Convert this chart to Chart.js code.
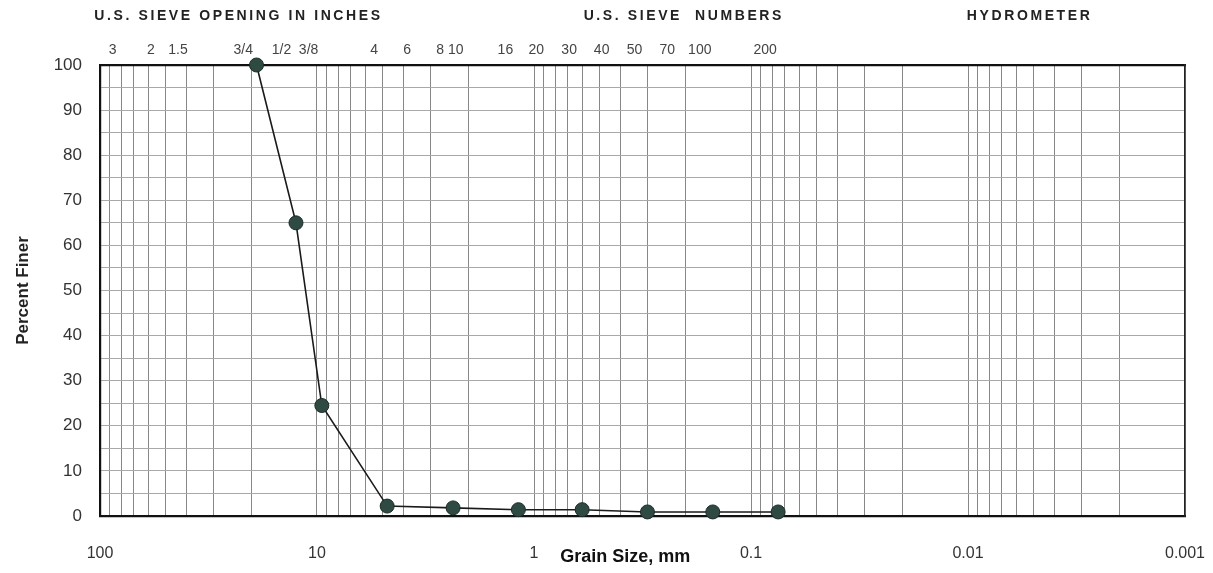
<!DOCTYPE html>
<html>
<head>
<meta charset="utf-8">
<script src="https://cdn.jsdelivr.net/npm/chart.js@4/dist/chart.umd.min.js"></script>
<style>
  html, body { margin: 0; padding: 0; background: #ffffff; }
  #wrap { width: 1213px; height: 573px; position: relative; }
</style>
</head>
<body>
<div id="wrap"><canvas id="c"></canvas></div>
<script>
// ---- data ----
const grainSizes = [19, 12.5, 9.5, 4.75, 2.36, 1.18, 0.6, 0.3, 0.15, 0.075];
const percentFiner = [100, 65, 24.5, 2.2, 1.8, 1.4, 1.4, 0.9, 0.9, 0.9];

const sieveSizes = [76.2, 50.8, 38.1, 19.05, 12.7, 9.525, 4.75, 3.35, 2.36, 2.0, 1.18, 0.85, 0.6, 0.425, 0.3, 0.212, 0.15, 0.075];
const sieveLabels = ['3', '2', '1.5', '3/4', '1/2', '3/8', '4', '6', '8', '10', '16', '20', '30', '40', '50', '70', '100', '200'];

const headerTexts = ['U.S. SIEVE OPENING IN INCHES', 'U.S. SIEVE  NUMBERS', 'HYDROMETER'];
const headerSizes = [23, 0.204, 0.0052]; // grain sizes (mm) at which headers are centred

const xMin = 0.001, xMax = 100;
const yMin = 0, yMax = 100;

// minor log grid values (1..9 x 10^n)
const gridValues = [];
for (let e = -3; e <= 2; e++) {
  for (let m = 1; m <= 9; m++) {
    const v = m * Math.pow(10, e);
    if (v >= xMin * 0.999 && v <= xMax * 1.001) gridValues.push(+v.toPrecision(6));
  }
}

const FONT = "'Liberation Sans', Arial, sans-serif";

const headerPlugin = {
  id: 'headers',
  afterDraw(chart) {
    const ctx = chart.ctx;
    const xs = chart.scales.x;
    ctx.save();
    ctx.fillStyle = '#222';
    ctx.font = "bold 14px " + FONT;
    try { ctx.letterSpacing = '2.6px'; } catch (e) {}
    ctx.textAlign = 'center';
    ctx.textBaseline = 'middle';
    headerTexts.forEach((t, i) => {
      ctx.fillText(t, xs.getPixelForValue(headerSizes[i]), 16);
    });
    try { ctx.letterSpacing = '0px'; } catch (e) {}
    // x axis title placed between tick labels
    ctx.font = "bold 18px " + FONT;
    ctx.fillStyle = '#111';
    ctx.fillText('Grain Size, mm', xs.getPixelForValue(0.38), 557);
    ctx.restore();
  }
};

new Chart(document.getElementById('c'), {
  type: 'line',
  data: {
    datasets: [{
      data: grainSizes.map((x, i) => ({ x: x, y: percentFiner[i] })),
      borderColor: '#1a1a1a',
      borderWidth: 1.6,
      pointRadius: 7,
      pointBackgroundColor: '#2e4a43',
      pointBorderColor: '#1b2b27',
      pointBorderWidth: 1,
      tension: 0,
      clip: false
    }]
  },
  options: {
    responsive: true,
    maintainAspectRatio: false,
    animation: false,
    layout: { padding: { left: 0, right: 0, top: 0, bottom: 0 } },
    plugins: { legend: { display: false }, tooltip: { enabled: false } },
    scales: {
      x: {
        type: 'logarithmic',
        position: 'bottom',
        reverse: true,
        min: xMin, max: xMax,
        afterBuildTicks(scale) { scale.ticks = gridValues.map(v => ({ value: v })); },
        afterFit(scale) { scale.height = 57; },
        grid: { color: '#888888', lineWidth: 1, drawTicks: false },
        border: { display: true, color: '#111', width: 2.2 },
        ticks: {
          autoSkip: false, maxRotation: 0, padding: 28,
          color: '#333', font: { family: FONT, size: 16 },
          callback(value) {
            const l = Math.log10(value);
            return Math.abs(l - Math.round(l)) < 1e-6 ? String(+value.toPrecision(3)) : '';
          }
        }
      },
      x2: {
        type: 'logarithmic',
        position: 'top',
        reverse: true,
        min: xMin, max: xMax,
        afterBuildTicks(scale) { scale.ticks = sieveSizes.map(v => ({ value: v })); },
        afterFit(scale) { scale.height = 65; },
        grid: { display: false, drawTicks: false },
        border: { display: true, color: '#111', width: 2.2 },
        ticks: {
          autoSkip: false, maxRotation: 0, padding: 6, labelOffset: -13,
          color: '#444', font: { family: FONT, size: 14 },
          callback(value, index) { return sieveLabels[index]; }
        }
      },
      y: {
        min: yMin, max: yMax,
        afterFit(scale) { scale.width = 100; },
        grid: { color: '#a8a8a8', lineWidth: 1, drawTicks: false },
        border: { display: true, color: '#111', width: 2.2, dash: [] },
        ticks: {
          stepSize: 5, padding: 18, autoSkip: false,
          color: '#333', font: { family: FONT, size: 17 },
          callback(value) { return value % 10 === 0 ? String(value) : ''; }
        },
        title: {
          display: true, text: 'Percent Finer', color: '#222',
          font: { family: FONT, size: 17, weight: 'bold' },
          padding: { top: 13, bottom: 0 }
        }
      },
      y2: {
        position: 'right',
        min: yMin, max: yMax,
        afterFit(scale) { scale.width = 28; },
        grid: { display: false, drawTicks: false },
        border: { display: true, color: '#222', width: 1.5 },
        ticks: { display: false }
      }
    }
  },
  plugins: [headerPlugin]
});
</script>
</body>
</html>
